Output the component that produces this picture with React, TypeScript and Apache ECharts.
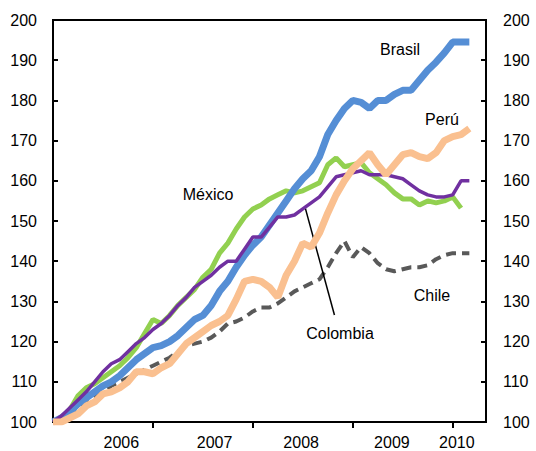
import React, { useEffect, useRef } from "react";
import * as echarts from "echarts";

// Monthly index values (month 0 = base = 100)
const brasil = [100, 101, 102.5, 104.5, 106, 107.5, 109, 110, 111.5, 113.5, 115.5, 117, 118.5, 119, 120, 121.5, 123.5, 125.5, 126.5, 129, 132.5, 135, 138.5, 141.5, 144, 146, 149, 152, 155, 158, 160.5, 162.5, 166, 171.5, 175, 178, 180, 179.5, 178, 180, 180, 181.5, 182.5, 182.5, 185, 187.5, 189.5, 191.8, 194.5, 194.5, 194.5];
const mexico = [100, 101, 103, 106.5, 108.5, 109.5, 111, 112.5, 114, 116, 118.5, 122, 125.5, 124.5, 126.5, 129, 131, 133, 136, 138, 142, 144.5, 148, 151, 153, 154, 155.5, 156.5, 157.5, 157, 157.5, 158.5, 159.5, 164, 165.7, 163.5, 164, 164.5, 162, 160.5, 159, 157, 155.5, 155.5, 154, 155, 154.5, 155, 156, 153.2];
const colombia = [100, 101.5, 103.5, 105.5, 107.5, 110, 112.5, 114.5, 115.5, 117.5, 119.5, 121, 123, 124.5, 126.5, 129, 131, 133.5, 135, 136.5, 138.5, 140, 140, 143, 146, 146, 148.5, 151, 151, 151.5, 153, 154.5, 156, 158.5, 161, 161.5, 162, 162.5, 161.5, 161.5, 161.5, 161, 160.5, 159, 157.5, 156.5, 156, 156, 156.5, 160, 160];
const peru = [100, 100, 101, 102, 104, 105, 107, 107.5, 108.5, 110, 112.5, 112.5, 112, 113.5, 114.5, 117, 119.5, 121, 122.5, 124, 125, 126.5, 130.5, 135, 135.5, 135, 133.5, 131, 136.5, 140, 144.5, 143.5, 147, 152, 156.5, 160, 163, 165, 167, 164, 161.5, 164, 166.5, 167, 166, 165.5, 167, 170, 171, 171.5, 173];
const chile = [100, 101, 102, 103.5, 104.5, 106, 107.5, 109, 110, 111, 112, 113, 114, 115, 116, 117.5, 119, 119.5, 120, 121, 122.5, 124.5, 125, 126, 127.5, 128.5, 128.5, 129.5, 131, 132.5, 133.5, 134.5, 135.5, 138.5, 142, 145, 141, 143.5, 142, 139.5, 138, 137.5, 138, 138.5, 138.5, 139, 140.5, 141.5, 142, 142, 142];

const yearLabels = ["2006", "2007", "2008", "2009", "2010"];
const yearLabelPos = [8.2, 19.4, 29.8, 40.7, 48.5];
const yearTickPos = [12, 24, 36, 48];
const colombiaLeader = [[30.3, 153.2], [33.8, 126.6]];

const FONT = "'Liberation Sans', Arial, sans-serif";

const toPairs = (arr: number[]) => arr.map((v, i) => [i, v]);

export default function App() {
  const ref = useRef<HTMLDivElement>(null);
  useEffect(() => {
    document.body.style.margin = "0";
    const chart = echarts.init(ref.current!, undefined, { renderer: "svg" });
    const yAxisBase = {
      type: "value",
      min: 100,
      max: 200,
      interval: 10,
      axisLine: { show: true, lineStyle: { color: "#000", width: 2 } },
      axisTick: { show: true, inside: true, length: 5, lineStyle: { color: "#000", width: 2 } },
      splitLine: { show: false },
      axisLabel: { color: "#000", fontSize: 16, fontFamily: FONT },
    };
    chart.setOption({
      animation: false,
      backgroundColor: "#fff",
      grid: { left: 53, right: 50, top: 20, bottom: 29, show: true, borderColor: "#000", borderWidth: 2, backgroundColor: "transparent" },
      xAxis: {
        type: "value",
        min: 0,
        max: 52,
        axisLine: { show: true, onZero: false, lineStyle: { color: "#000", width: 2 } },
        axisTick: { show: true, inside: false, length: 6, customValues: yearTickPos, lineStyle: { color: "#000", width: 2 } },
        splitLine: { show: false },
        axisLabel: {
          color: "#000",
          fontSize: 16,
          fontFamily: FONT,
          margin: 12,
          customValues: yearLabelPos,
          formatter: (v: number) => {
            const idx = yearLabelPos.findIndex((p) => Math.abs(p - v) < 0.01);
            return idx >= 0 ? yearLabels[idx] : "";
          },
        },
      },
      yAxis: [
        { ...yAxisBase, position: "left", axisLabel: { ...yAxisBase.axisLabel, margin: 16 } },
        { ...yAxisBase, position: "right", axisLabel: { ...yAxisBase.axisLabel, margin: 17 } },
      ],
      series: [
        {
          name: "Chile", type: "line", data: toPairs(chile), showSymbol: false, symbol: "none",
          lineStyle: { color: "#595959", width: 4, type: [10, 6] }, z: 2,
        },
        {
          name: "México", type: "line", data: toPairs(mexico), showSymbol: false, symbol: "none",
          lineStyle: { color: "#92D050", width: 5 }, z: 3,
        },
        {
          name: "Brasil", type: "line", data: toPairs(brasil), showSymbol: false, symbol: "none",
          lineStyle: { color: "#558ED5", width: 7 }, z: 4,
        },
        {
          name: "Colombia", type: "line", data: toPairs(colombia), showSymbol: false, symbol: "none",
          lineStyle: { color: "#7030A0", width: 3.5 }, z: 5,
          markLine: {
            silent: true,
            symbol: ["none", "none"],
            label: { show: false },
            lineStyle: { color: "#000", width: 1.5, type: "solid" },
            data: [[{ coord: colombiaLeader[0] }, { coord: colombiaLeader[1] }]],
          },
        },
        {
          name: "Perú", type: "line", data: toPairs(peru), showSymbol: false, symbol: "none",
          lineStyle: { color: "#FAC090", width: 7 }, z: 6,
        },
      ],
      graphic: [
        { type: "text", x: 400, y: 49, style: { text: "Brasil", fill: "#000", fontSize: 16, fontFamily: FONT, align: "center", verticalAlign: "middle" } },
        { type: "text", x: 442, y: 119, style: { text: "Perú", fill: "#000", fontSize: 16, fontFamily: FONT, align: "center", verticalAlign: "middle" } },
        { type: "text", x: 208, y: 194, style: { text: "México", fill: "#000", fontSize: 16, fontFamily: FONT, align: "center", verticalAlign: "middle" } },
        { type: "text", x: 340, y: 333, style: { text: "Colombia", fill: "#000", fontSize: 16, fontFamily: FONT, align: "center", verticalAlign: "middle" } },
        { type: "text", x: 432, y: 295, style: { text: "Chile", fill: "#000", fontSize: 16, fontFamily: FONT, align: "center", verticalAlign: "middle" } },
      ],
    });
    return () => chart.dispose();
  }, []);
  return <div ref={ref} style={{ width: 536, height: 451 }} />;
}
